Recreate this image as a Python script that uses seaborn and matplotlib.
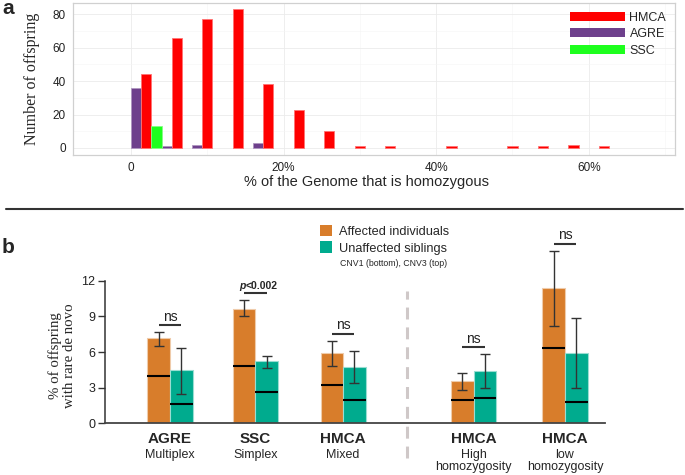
import numpy as np
import pandas as pd
import seaborn as sns
import matplotlib.pyplot as plt
import matplotlib.colors as mcolors
from matplotlib.patches import Patch
from matplotlib.lines import Line2D

# ---- panel a data: histogram of genome homozygosity (4% bins, left edge in %)
hmca_bin = [0, 4, 8, 12, 16, 20, 24, 28, 32, 40, 48, 52, 56, 60]
hmca_count = [44, 66, 77, 83, 38, 23, 10, 1, 1, 1, 1, 1, 2, 1]
agre_bin = [0, 4, 8, 16]
agre_count = [36, 1, 2, 3]
ssc_bin = [0]
ssc_count = [13]
bin_width = 4

# ---- panel b data: % of offspring with rare de novo CNV
groups = ["AGRE", "SSC", "HMCA", "HMCA", "HMCA"]
subtitles = ["Multiplex", "Simplex", "Mixed", "High\nhomozygosity", "low\nhomozygosity"]
aff_cnv3 = [7.15, 9.65, 5.9, 3.55, 11.4]
aff_lo = [6.55, 9.0, 4.85, 2.8, 8.2]
aff_hi = [7.65, 10.35, 6.95, 4.2, 14.5]
aff_cnv1 = [3.95, 4.85, 3.25, 1.95, 6.3]
unaff_cnv3 = [4.45, 5.25, 4.7, 4.4, 5.9]
unaff_lo = [2.45, 4.65, 3.4, 3.0, 2.95]
unaff_hi = [6.3, 5.7, 6.05, 5.8, 8.9]
unaff_cnv1 = [1.65, 2.6, 1.95, 2.15, 1.8]
signif = ["ns", "p<0.002", "ns", "ns", "ns"]

# layout of groups on the x axis (gap before the two HMCA subsets)
group_x = [0, 0.98, 1.99, 3.49, 4.54]
divider_x = 2.72

sns.set_style("white")
plt.rcParams["font.family"] = ["Liberation Sans", "DejaVu Sans"]

cohort_colors = {"HMCA": "#FF0000", "AGRE": "#6E408C", "SSC": "#1EFF1E"}
status_colors = {"Affected individuals": "#D87D2B", "Unaffected siblings": "#00AB8E"}


def lighter(c, amt=0.5):
    r, g, b, _ = mcolors.to_rgba(c)
    return (r + (1 - r) * amt, g + (1 - g) * amt, b + (1 - b) * amt)


fig = plt.figure(figsize=(6.85, 4.75), dpi=100)

# ================= panel a =================
ax1 = fig.add_axes([73 / 685, 1 - 155 / 475, 602 / 685, 152 / 475])

hist = pd.concat([
    pd.DataFrame({"start": hmca_bin, "count": hmca_count, "cohort": "HMCA"}),
    pd.DataFrame({"start": agre_bin, "count": agre_count, "cohort": "AGRE"}),
    pd.DataFrame({"start": ssc_bin, "count": ssc_count, "cohort": "SSC"}),
])
hist["center"] = hist["start"] + bin_width / 2

sns.barplot(data=hist, x="center", y="count", hue="cohort",
            hue_order=["AGRE", "HMCA", "SSC"], palette=cohort_colors,
            native_scale=True, width=1.0, errorbar=None, legend=False,
            saturation=1, linewidth=0.6, ax=ax1)
for p in ax1.patches:
    p.set_edgecolor(lighter(p.get_facecolor(), 0.45))

ax1.set_xlim(-7.6, 71.3)
ax1.set_ylim(-4.2, 86.7)
ax1.set_xticks([0, 20, 40, 60])
ax1.set_xticklabels(["0", "20%", "40%", "60%"])
ax1.set_yticks([0, 20, 40, 60, 80])
ax1.set_xticks([10, 30, 50, 70], minor=True)
ax1.set_yticks([10, 30, 50, 70], minor=True)
ax1.grid(True, which="major", color="#ebebeb", lw=0.6)
ax1.grid(True, which="minor", color="#f5f5f5", lw=0.4)
ax1.set_axisbelow(True)
for s in ax1.spines.values():
    s.set_color("#d0d0d0")
    s.set_linewidth(0.9)
ax1.tick_params(which="major", length=3, color="#d0d0d0", labelsize=8.5,
                labelcolor="#222222", pad=2)
ax1.tick_params(which="minor", length=0)
ax1.set_xlabel("% of the Genome that is homozygous", fontsize=10.5, labelpad=5)
ax1.xaxis.set_label_coords(0.487, -0.13)
ax1.xaxis.label.set_va("top")
ax1.set_ylabel("Number of offspring", fontsize=11.5, labelpad=9,
               family=["Liberation Serif", "DejaVu Serif"])

handles = [Patch(facecolor=cohort_colors[k], edgecolor="none") for k in ["HMCA", "AGRE", "SSC"]]
ax1.legend(handles, ["HMCA", "AGRE", "SSC"], loc="upper right",
           bbox_to_anchor=(1.0, 1.0), frameon=False, fontsize=9,
           handlelength=4.4, handleheight=0.75, labelspacing=0.35,
           handletextpad=0.4, borderaxespad=0.3)

# ================= panel b =================
ax2 = fig.add_axes([105 / 685, 1 - 423.3 / 475, 500 / 685, 190 / 475])

bars = pd.DataFrame({
    "x": group_x * 2,
    "value": aff_cnv3 + unaff_cnv3,
    "status": ["Affected individuals"] * 5 + ["Unaffected siblings"] * 5,
})
pair_width = 0.52
sns.barplot(data=bars, x="x", y="value", hue="status",
            hue_order=list(status_colors), palette=status_colors,
            native_scale=True, width=pair_width / np.diff(group_x).min(),
            errorbar=None, legend=False, saturation=1, linewidth=0.8, ax=ax2)
for p in ax2.patches:
    p.set_edgecolor(lighter(p.get_facecolor(), 0.6))

gx = np.array(group_x)
bw = pair_width / 2
x_aff = gx - bw / 2
x_unaff = gx + bw / 2

for xs, mid, lo, hi, cnv1 in [(x_aff, aff_cnv3, aff_lo, aff_hi, aff_cnv1),
                              (x_unaff, unaff_cnv3, unaff_lo, unaff_hi, unaff_cnv1)]:
    mid = np.array(mid)
    ax2.errorbar(xs, mid, yerr=[mid - np.array(lo), np.array(hi) - mid], fmt="none",
                 ecolor="#333333", elinewidth=1.0, capsize=3.8, capthick=1.0, zorder=4)
    ax2.hlines(cnv1, xs - bw / 2, xs + bw / 2, color="black", lw=1.5, zorder=4)

bracket_y = np.maximum(aff_hi, unaff_hi) + 0.6
ax2.hlines(bracket_y, x_aff, x_unaff, color="#333333", lw=1.5, clip_on=False)
for x, y, s in zip(gx, bracket_y, signif):
    if s.startswith("p"):
        ax2.annotate("p", (x, y), xytext=(-7.2, 1.8), textcoords="offset points",
                     ha="right", va="bottom", fontsize=7.5, fontweight="bold",
                     fontstyle="italic", annotation_clip=False)
        ax2.annotate(s[1:], (x, y), xytext=(-7.2, 1.8), textcoords="offset points",
                     ha="left", va="bottom", fontsize=7.5, fontweight="bold",
                     annotation_clip=False)
    else:
        ax2.annotate(s, (x, y), xytext=(0, 1.2), textcoords="offset points",
                     ha="center", va="bottom", fontsize=10, color="#222222",
                     annotation_clip=False)

ax2.plot([divider_x, divider_x], [-2.95, 11.1], color="#cfc8c8", lw=2.2,
         dashes=(3.9, 2.6), clip_on=False)

ax2.set_xlim(-0.747, 5.0)
ax2.set_ylim(0, 16)
ax2.set_yticks([0, 3, 6, 9, 12])
ax2.set_xticks([])
ax2.set_xlabel("")
sns.despine(ax=ax2)
ax2.spines["left"].set_bounds(0, 12)
ax2.spines["left"].set_color("#333333")
ax2.spines["left"].set_linewidth(1.1)
ax2.spines["bottom"].set_color("#444444")
ax2.spines["bottom"].set_linewidth(1.3)
ax2.tick_params(axis="y", length=5, width=1.0, color="#333333", labelsize=9,
                labelcolor="#222222", pad=2, left=True)
ax2.set_ylabel("% of offspring\nwith rare de novo", fontsize=10.7, linespacing=1.1,
               family=["Liberation Serif", "DejaVu Serif"])
ax2.yaxis.set_label_coords(-0.058, 0.358)

xform = ax2.get_xaxis_transform()
for x, g, sub in zip(gx, groups, subtitles):
    ax2.text(x, -0.045, g, transform=xform, ha="center", va="top",
             fontsize=11, fontweight="bold")
    ax2.text(x, -0.135, sub, transform=xform, ha="center", va="top",
             fontsize=9, linespacing=1.05)

leg_handles = [Patch(facecolor=c, edgecolor="none") for c in status_colors.values()]
fig.legend(leg_handles, list(status_colors), loc="upper left",
           bbox_to_anchor=(317 / 685, 1 - 222 / 475), frameon=False, fontsize=9.2,
           handlelength=1.0, handleheight=1.0, labelspacing=0.3, handletextpad=0.5,
           borderaxespad=0, borderpad=0.2)
fig.text(340 / 685, 1 - 264 / 475, "CNV1 (bottom), CNV3 (top)", fontsize=6.3,
         va="center", ha="left")

# panel letters and separator
fig.text(0.003, 1 - 13.5 / 475, "a", fontsize=15, fontweight="bold", va="baseline")
fig.text(0.003, 1 - 253 / 475, "b", fontsize=15, fontweight="bold", va="baseline")
fig.add_artist(Line2D([6 / 685, 683 / 685], [1 - 209 / 475] * 2, color="#333333", lw=1.5))

fig.savefig("out.png", dpi=100)
